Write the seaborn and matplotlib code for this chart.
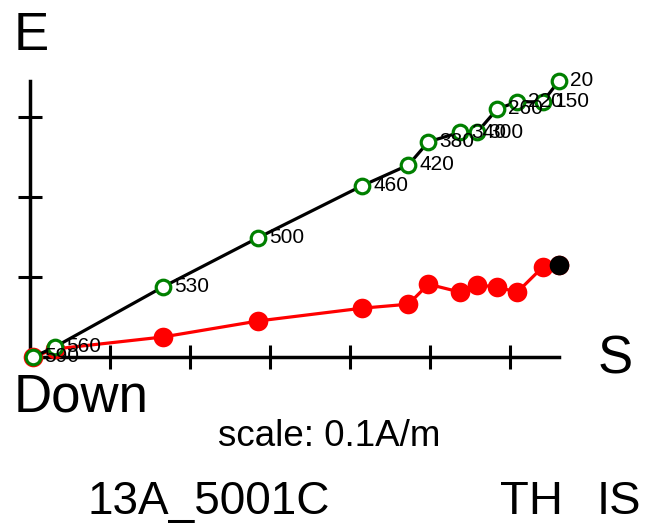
import numpy as np
import pandas as pd
import matplotlib
matplotlib.use("Agg")
import matplotlib.pyplot as plt
import seaborn as sns

# demag steps and components (A/m)
temps = [20, 150, 220, 260, 300, 340, 380, 420, 460, 500, 530, 560, 590]
x_s = [0.661, 0.641, 0.609, 0.584, 0.559, 0.538, 0.498, 0.473, 0.415, 0.285, 0.166, 0.031, 0.004]
y_vert = [0.345, 0.319, 0.319, 0.310, 0.281, 0.281, 0.269, 0.240, 0.214, 0.149, 0.0875, 0.0125, 0.0]
y_horiz = [0.115, 0.1125, 0.081, 0.0875, 0.090, 0.081, 0.091, 0.066, 0.061, 0.045, 0.025, 0.010, 0.0]
tick_step = 0.1

df = pd.DataFrame({"temp": temps, "x": x_s, "v": y_vert, "h": y_horiz})

sns.set_style("white")
plt.rcParams['font.family'] = ['Liberation Sans', 'DejaVu Sans']
plt.rcParams['text.color'] = 'black'

fig = plt.figure(figsize=(6.48, 5.32), dpi=100)
ax = fig.add_axes([0, 0, 1, 1])
ax.patch.set_alpha(0)

# horizontal projection (red, filled)
sns.lineplot(data=df, x="x", y="h", sort=False, color="red", lw=2.3, ax=ax, zorder=2)
sns.scatterplot(data=df, x="x", y="h", color="red", s=200, linewidth=0, ax=ax, zorder=3)
# first step marked black
sns.scatterplot(data=df.iloc[:1], x="x", y="h", color="black", s=200, linewidth=0, ax=ax, zorder=4)

# vertical projection (green, open)
sns.lineplot(data=df, x="x", y="v", sort=False, color="black", lw=2.3, ax=ax, zorder=5)
sns.scatterplot(data=df, x="x", y="v", facecolor="white", edgecolor="green", s=110,
                linewidth=2.3, ax=ax, zorder=6)

for t, xx, yy in zip(df["temp"], df["x"], df["v"]):
    ax.annotate(str(t), (xx, yy), xytext=(8, 0), textcoords="offset points",
                va="center", ha="left", fontsize=15, color="black", zorder=7)

# axes through the origin, 800 px per A/m
ax.set_xlim(-30 / 800, 618 / 800)
ax.set_ylim(-175 / 800, 357 / 800)
ax.set_aspect("equal")
for side in ["top", "right"]:
    ax.spines[side].set_visible(False)
ax.spines["left"].set_position(("data", 0))
ax.spines["bottom"].set_position(("data", 0))
ax.spines["left"].set_bounds(0, max(y_vert))
ax.spines["bottom"].set_bounds(0, max(x_s))
for side in ["left", "bottom"]:
    ax.spines[side].set_linewidth(2.5)
    ax.spines[side].set_color("black")
ax.set_xticks(np.arange(1, 7) * tick_step)
ax.set_yticks(np.arange(1, 4) * tick_step)
ax.tick_params(direction="inout", length=17, width=2.2, color="black",
               labelbottom=False, labelleft=False, bottom=True, left=True)
ax.set_xlabel("")
ax.set_ylabel("")

W, H = 648, 532
fig.text(14 / W, 1 - 50 / H, "E", fontsize=38, va="baseline", ha="left")
fig.text(598 / W, 1 - 373 / H, "S", fontsize=38, va="baseline", ha="left")
fig.text(14 / W, 1 - 411 / H, "Down", fontsize=38, va="baseline", ha="left")
fig.text(329 / W, 1 - 446 / H, "scale: 0.1A/m", fontsize=26.5, va="baseline", ha="center")
fig.text(87 / W, 1 - 514 / H, "13A_5001C", fontsize=33, va="baseline", ha="left")
fig.text(500 / W, 1 - 514 / H, "TH", fontsize=34, va="baseline", ha="left")
fig.text(597 / W, 1 - 514 / H, "IS", fontsize=34, va="baseline", ha="left")

plt.savefig("out.png", dpi=100)
